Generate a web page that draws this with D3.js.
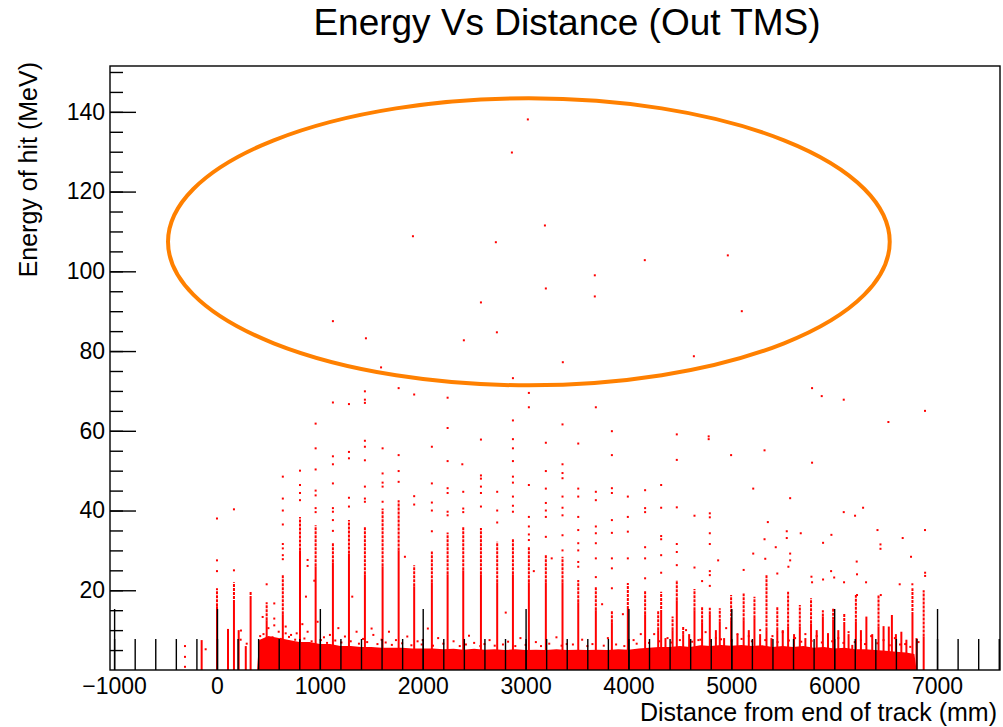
<!DOCTYPE html>
<html>
<head>
<meta charset="UTF-8">
<title>Energy Vs Distance (Out TMS)</title>
<style>
  body { margin: 0; background: #fff; }
  svg { font-family: "Liberation Sans", Arial, sans-serif; }
  .axis text { font-size: 23px; fill: #000; }
  .axis line { stroke: #000; stroke-width: 1.4px; }
  .axis path { display: none; }
</style>
</head>
<body>
<svg width="1003" height="727"></svg>
<script src="https://d3js.org/d3.v7.min.js"></script>
<script>
// axis ranges and tick labels
const xRange = [-1040, 7612];
const yRange = [0, 151.5];
const xTicks = [-1000, 0, 1000, 2000, 3000, 4000, 5000, 6000, 7000];
const yTicks = [20, 40, 60, 80, 100, 120, 140];

// vertical stripes of hits: distance (mm), top of the continuous part, top of the dotted part (MeV)
const stripeX = [-149, 0, 107, 165, 211, 280, 327, 483, 640, 807, 959, 1127, 1283, 1438, 1610, 1766, 1917,
  2089, 2242, 2394, 2566, 2724, 2877, 3032, 3197, 3359, 3512, 3683, 3839, 3994, 4162, 4289, 4318, 4360, 4429,
  4470, 4532, 4590, 4642, 4716, 4791, 4850, 4888, 4930, 4998, 5060, 5120, 5170, 5225, 5280, 5342, 5390, 5447,
  5500, 5552, 5610, 5666, 5720, 5775, 5830, 5890, 5940, 5990, 6040, 6098, 6140,
  6176, 6211, 6260, 6313, 6370, 6431, 6480, 6531, 6561, 6600, 6653, 6702, 6761, 6800, 6870];
const stripeSolid = [7.5, 16, 10.3, 16.8, 10, 6, 17.8, 12.5, 14, 30, 26, 27, 29.2, 24, 26, 30, 21,
  22, 24, 25, 24, 22, 24, 22, 22, 22, 17, 15, 12, 15.3, 14, 10, 14.3, 8, 10,
  17.5, 9, 9, 15, 12, 14, 10, 12.1, 8, 12.5, 9, 12.5, 10, 13, 9, 10, 8, 10,
  10, 10.9, 9, 10.9, 8, 11.7, 10, 13.4, 9, 12.6, 10, 11.3, 9,
  6.3, 12.1, 10, 13.4, 9, 10.9, 11, 10.9, 13.8, 9, 9.6, 7.6, 13.8, 8, 8.4];
const stripeDotted = [7.5, 20.5, 10.3, 22, 10, 6, 19.6, 17, 24, 38.4, 36.3, 32, 37.6, 35.8, 40.5, 42.6, 26.3,
  29.7, 34.5, 36, 35.6, 32.2, 33, 30.9, 28.8, 28.4, 22.6, 20.9, 15, 21.8, 20, 14.9, 19.6, 8, 13.4,
  22.6, 10.9, 9, 20.3, 16, 15.6, 10, 15.5, 8, 18.8, 9, 19.2, 10, 18.4, 9, 23.9, 8, 15.9,
  10, 19.6, 9, 16.3, 8, 18, 10, 15, 9, 15.5, 10, 14.2, 9,
  6.3, 18.8, 10, 13.4, 9, 18.8, 11, 10.9, 13.8, 9, 9.6, 7.6, 20.5, 8, 20];

// isolated hits [distance (mm), energy (MeV)]
const hits = [
  [0, 24.8], [0, 27.5], [0, 38], [165, 25], [165, 40.3], [483, 21.5],
  [640, 27.8], [640, 28.8], [640, 30.5], [640, 31.6], [640, 36.5], [640, 40], [640, 43], [640, 48.5],
  [807, 42.6], [807, 44.4], [807, 46.4], [807, 50],
  [959, 39.6], [959, 40.6], [959, 43.8], [959, 45], [959, 50.3], [959, 55.6], [959, 61.8],
  [1127, 34.9], [1127, 37.6], [1127, 39.7], [1127, 40.6], [1127, 46.8], [1127, 51.6], [1127, 53.6], [1127, 67.1], [1127, 87.5],
  [1283, 41], [1283, 43.2], [1283, 53.1], [1283, 54.7], [1283, 66.7],
  [1438, 42.2], [1438, 43], [1438, 46], [1438, 52.6], [1438, 56], [1438, 57.5], [1438, 67], [1438, 67.8], [1438, 69.9], [1448, 83.2],
  [1610, 42.2], [1610, 46], [1610, 47], [1610, 49.3], [1610, 55.6], [1595, 75.9],
  [1766, 47.2], [1766, 49.9], [1766, 53.9], [1766, 70.7],
  [1917, 41.5], [1917, 43.6], [1917, 69.1], [1905, 108.8],
  [2089, 34.8], [2089, 40], [2089, 42], [2089, 46.8], [2089, 56],
  [2242, 38.8], [2242, 39.7], [2242, 44.4], [2242, 45.6], [2242, 52.4], [2242, 60.7], [2242, 68.3],
  [2394, 39.6], [2394, 40.5], [2394, 44.7], [2385, 51.6], [2400, 82.7],
  [2566, 41], [2566, 44.4], [2566, 46], [2566, 48], [2566, 48.8], [2566, 57.8], [2566, 92.2],
  [2724, 37], [2724, 40], [2724, 44.7], [2721, 84.7], [2711, 107.3],
  [2877, 39.7], [2877, 41.2], [2877, 43.5], [2877, 47], [2877, 48.5], [2877, 52.4], [2877, 55.6], [2877, 57.9], [2877, 62.6], [2877, 73.2], [2867, 129.8],
  [3032, 32.6], [3032, 34], [3032, 36], [3032, 38.4], [3032, 46.4], [3032, 65.9], [3032, 69.5], [3022, 138.1],
  [3197, 33.4], [3197, 38.4], [3197, 40], [3197, 41.9], [3197, 45.5], [3197, 49.9], [3197, 57], [3197, 95.7], [3188, 111.5],
  [3359, 30], [3359, 33.8], [3359, 38.8], [3359, 40.7], [3359, 43.5], [3359, 48.1], [3359, 49.4], [3359, 51.6], [3359, 61.6], [3362, 77.2],
  [3512, 25.9], [3512, 27.1], [3512, 30], [3512, 31.8], [3512, 35.1], [3512, 38.4], [3512, 43.5], [3512, 45.5], [3512, 56.8],
  [3683, 23.3], [3683, 28], [3683, 31.8], [3683, 34.3], [3683, 36], [3683, 42.6], [3683, 44.7], [3683, 65.9], [3673, 93.7], [3673, 99],
  [3839, 20.5], [3839, 25.5], [3839, 28], [3839, 34.4], [3839, 37.6], [3839, 44.4], [3839, 45.6], [3839, 53.9], [3839, 59.9],
  [3994, 28], [3994, 34.7], [3994, 38.4], [3994, 43.5],
  [4162, 23], [4162, 28], [4162, 30.8], [4162, 39.6], [4162, 40.6], [4162, 45.1], [4159, 102.8],
  [4318, 24.4], [4318, 28.8], [4318, 32.8], [4318, 33.6], [4318, 40.7], [4318, 46.4],
  [4470, 26.3], [4470, 29.6], [4470, 31.6], [4470, 40.8], [4470, 52.7], [4470, 59.1],
  [4642, 25.7], [4642, 38.7], [4636, 78.7],
  [4791, 21.1], [4791, 23.8], [4791, 24.8], [4791, 31.6], [4791, 34.3], [4791, 38.3], [4791, 39.3], [4780, 57.9], [4780, 58.6],
  [4716, 22.3], [4872, 27.5], [4998, 53.9], [4966, 104], [5102, 90], [5120, 25.1], [5213, 45.5], [5213, 29.2],
  [5323, 55.1], [5355, 37.1], [5323, 32.8], [5330, 27.9], [5432, 30.8], [5447, 24.2], [5539, 34.8], [5539, 33.1],
  [5572, 43.1], [5572, 29.2], [5572, 27.5], [5555, 25.9], [5675, 34.3], [5785, 70.7], [5785, 52], [5779, 23.4],
  [5785, 22], [5879, 68.7], [5892, 31.9], [5892, 22.7], [5973, 33.9], [5970, 24.8], [6000, 23.2], [6093, 67.8],
  [6093, 39.6], [6096, 22], [6203, 38.7], [6219, 27.2], [6222, 24], [6222, 18.8], [6281, 40.7], [6310, 22],
  [6421, 35.1], [6450, 31.5], [6450, 30.4], [6453, 18.8], [6527, 62.2], [6666, 33.1], [6637, 21.5], [6747, 28.4],
  [6760, 21.5], [6883, 65], [6883, 35.1], [6884, 24.4], [6884, 23.6],
  [881, 27.6], [881, 26.1], [865, 18.4], [946, 22.4], [1315, 18.4], [1827, 28.4], [444, 13.3], [557, 16.7],
  [557, 12.9], [3080, 24.8], [3254, 28], [3744, 16.5], [3946, 14], [2807, 14.4], [2050, 10.4],
  [-311, 6], [-311, 3.3], [-311, 0.8], [-110, 5.2]
];

// scattered low-energy hits just above the dense band
const lowHits = [
  [233, 9.9], [230, 7.6], [289, 6.6], [452, 9], [500, 10.5], [557, 11.2], [600, 9.6], [668, 10.9], [668, 9.2],
  [720, 8.8], [775, 9.2], [830, 11.5], [881, 9.6], [978, 12.1], [1040, 8.2], [1098, 8.8], [1180, 10.5],
  [1244, 8.4], [1357, 9.6], [1420, 7.8], [1503, 10.4], [1520, 8.8], [1600, 7.6], [1672, 9.6], [1740, 7.5],
  [1850, 8.4], [1950, 7.2], [2000, 7.5], [2150, 8], [2300, 7.2], [2450, 8.6], [2500, 6.8], [2650, 7.5],
  [2830, 7.1], [2950, 8], [3100, 7], [3300, 8.2], [3400, 6.5], [3550, 7.6], [3800, 8], [4050, 7.5], [4120, 9],
  [4250, 9], [4380, 8], [4560, 10], [4680, 7.5], [4750, 9.5], [4850, 8], [4950, 10.5], [5060, 9], [5170, 8.5],
  [5280, 10], [5400, 8.5], [5500, 9.5], [5620, 8], [5720, 9], [5830, 8.5], [5940, 9], [6040, 8], [6140, 9.5],
  [6260, 7.5], [6360, 8.5], [6480, 7.5], [6590, 8], [6690, 6.5], [6820, 7],
  [420, 8.5], [470, 7.4], [540, 8.2], [620, 7.8], [700, 8.3], [760, 7.6], [850, 7.9], [920, 7.2], [1010, 7.5],
  [1070, 6.8], [1150, 7.4], [1210, 6.9], [1300, 7.2], [1380, 6.6], [1460, 7], [1560, 6.5], [1640, 6.9],
  [1700, 6.3], [1800, 6.7], [1890, 6.2], [1990, 6.4], [2100, 6.1], [2200, 6.6], [2360, 6], [2420, 6.4],
  [2560, 6], [2600, 6.5], [2700, 6.1], [2780, 6.4], [2900, 6], [3000, 6.3], [3150, 6], [3230, 6.6],
  [3350, 6.1], [3460, 6.4], [3600, 6], [3650, 6.5], [3760, 6.1], [3880, 6.4], [3960, 6], [4080, 6.6],
  [4200, 6.8], [4300, 7.2], [4420, 6.9], [4500, 7.5], [4620, 7.1], [4700, 7.6], [4800, 7.2], [4900, 7.7],
  [5000, 7.3], [5100, 7.8], [5200, 7.2], [5330, 7.5], [5450, 7], [5560, 7.4], [5680, 7.1], [5780, 7.3],
  [5880, 6.9], [5980, 7.2], [6090, 6.8], [6200, 7], [6300, 6.5], [6420, 6.7], [6540, 6.2], [6640, 6.4],
  [6740, 5.8]
];

// upper edge of the dense band of low-energy hits
const bandX = [390, 410, 500, 600, 700, 800, 900, 1000, 1100, 1200, 1300, 1400, 1500, 1600, 1700, 1800, 1900,
  2000, 2100, 2200, 2300, 2400, 2500, 2600, 2700, 2800, 2900, 3000, 3100, 3200, 3300, 3400, 3500, 3600,
  3700, 3800, 3900, 4000, 4100, 4200, 4300, 4400, 4500, 4600, 4700, 4800, 4900, 5000, 5100, 5200, 5300,
  5400, 5500, 5600, 5700, 5800, 5900, 6000, 6100, 6200, 6300, 6400, 6500, 6600, 6700, 6780, 6800];
const bandTop = [0, 7.5, 8.5, 8, 7.5, 7, 7, 6.5, 6.5, 6, 6, 5.8, 5.8, 5.6, 5.6, 5.6, 5.4,
  5.4, 5.4, 5.2, 5.3, 5.1, 5.3, 5.1, 5.2, 5, 5.2, 5, 5.1, 5, 5.2, 5, 5.1, 5,
  5.1, 5, 5.2, 5.1, 5.4, 5.6, 5.8, 5.8, 6, 5.8, 6.2, 6, 6.3, 6.1, 6.3, 6, 6.2,
  5.8, 6, 5.8, 6, 5.6, 5.8, 5.4, 5.6, 5.2, 5.2, 5, 4.8, 4.6, 4.4, 4, 0];

// highlighted region (centre and radii in data units)
const ellipseCenter = [3032, 107.4];
const ellipseRadii = [3508, 36];

const svg = d3.select("svg");
const x = d3.scaleLinear().domain(xRange).range([110, 1000]);
const y = d3.scaleLinear().domain(yRange).range([670, 66]);
const red = "#ff0000";

const plot = svg.append("g");

plot.append("path")
  .datum(bandX.map((d, i) => [d, bandTop[i]]))
  .attr("fill", red)
  .attr("d", d3.area().x(d => x(d[0])).y0(y(0)).y1(d => y(d[1])));

const stripes = stripeX.map((d, i) => ({ x: d, solid: stripeSolid[i], dotted: stripeDotted[i] }));

plot.selectAll(".dotted").data(stripes.filter(d => d.dotted > d.solid)).join("line")
  .attr("x1", d => x(d.x)).attr("x2", d => x(d.x))
  .attr("y1", d => y(d.solid)).attr("y2", d => y(d.dotted))
  .attr("stroke", red).attr("stroke-width", 2).attr("stroke-dasharray", "3,1");

plot.selectAll(".solid").data(stripes).join("line")
  .attr("x1", d => x(d.x)).attr("x2", d => x(d.x))
  .attr("y1", y(0)).attr("y2", d => y(d.solid))
  .attr("stroke", red).attr("stroke-width", 2);

plot.selectAll(".hit").data(hits.concat(lowHits)).join("rect")
  .attr("x", d => x(d[0]) - 1).attr("y", d => y(d[1]) - 1)
  .attr("width", 2).attr("height", 2)
  .attr("fill", red);

// axes, ticks drawn inside the frame like ROOT
const minorX = d3.range(-1000, 7601, 200);
const minorY = d3.range(5, 151, 5);

svg.append("g").attr("class", "axis").attr("transform", "translate(0,670)")
  .call(d3.axisBottom(x).tickValues(minorX).tickSize(-31).tickFormat(""));
svg.append("g").attr("class", "axis").attr("transform", "translate(0,670)")
  .call(d3.axisBottom(x).tickValues(xTicks).tickSize(-61).tickPadding(8).tickFormat(d3.format("d")))
  .selectAll("text").text(d => d < 0 ? "\u2212" + Math.abs(d) : d);

svg.append("g").attr("class", "axis").attr("transform", "translate(110,0)")
  .call(d3.axisLeft(y).tickValues(minorY).tickSize(-13).tickFormat(""));
svg.append("g").attr("class", "axis").attr("transform", "translate(110,0)")
  .call(d3.axisLeft(y).tickValues(yTicks).tickSize(-26).tickPadding(5));

svg.append("rect")
  .attr("x", 110).attr("y", 66).attr("width", 890).attr("height", 604)
  .attr("fill", "none").attr("stroke", "#000").attr("stroke-width", 1.4);

svg.append("ellipse")
  .attr("cx", x(ellipseCenter[0])).attr("cy", y(ellipseCenter[1]))
  .attr("rx", x(ellipseCenter[0] + ellipseRadii[0]) - x(ellipseCenter[0]))
  .attr("ry", y(ellipseCenter[1] - ellipseRadii[1]) - y(ellipseCenter[1]))
  .attr("fill", "none").attr("stroke", "#ff8000").attr("stroke-width", 4);

svg.append("text")
  .attr("x", 567).attr("y", 35)
  .attr("text-anchor", "middle").attr("font-size", 37)
  .text("Energy Vs Distance (Out TMS)");

svg.append("text")
  .attr("x", 997).attr("y", 721)
  .attr("text-anchor", "end").attr("font-size", 25)
  .text("Distance from end of track (mm)");

svg.append("text")
  .attr("transform", "translate(37,62) rotate(-90)")
  .attr("text-anchor", "end").attr("font-size", 25)
  .text("Energy of hit (MeV)");
</script>
</body>
</html>
